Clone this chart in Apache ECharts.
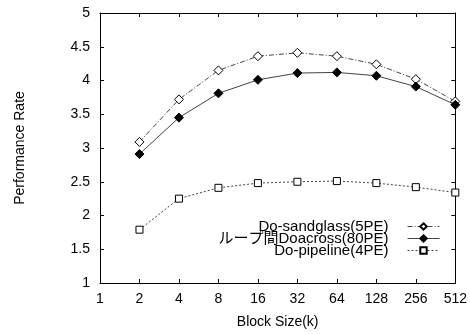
<!DOCTYPE html>
<html>
<head>
<meta charset="utf-8">
<script src="https://cdn.jsdelivr.net/npm/echarts@6/dist/echarts.min.js"></script>
<style>
  html, body { margin: 0; padding: 0; background: #fff; }
  #chart { width: 470px; height: 334px; }
</style>
</head>
<body>
<div id="chart"></div>
<script>
const blockSizes = [2, 4, 8, 16, 32, 64, 128, 256, 512]
const sandglass = [3.09, 3.72, 4.15, 4.36, 4.41, 4.36, 4.24, 4.02, 3.69]
const doacross = [2.91, 3.45, 3.81, 4.01, 4.11, 4.12, 4.07, 3.91, 3.64]
const pipeline = [1.79, 2.25, 2.41, 2.48, 2.50, 2.51, 2.48, 2.42, 2.34]
const seriesNames = ['Do-sandglass(5PE)', 'ループ間Doacross(80PE)', 'Do-pipeline(4PE)']

const font = 'Liberation Sans, Arial, Noto Sans CJK JP, sans-serif'
const pairs = (ys) => blockSizes.map((x, i) => [x, ys[i]])

const chart = echarts.init(document.getElementById('chart'))

const xBase = {
  type: 'log',
  logBase: 2,
  min: 1,
  max: 512,
  splitNumber: 9,
  axisLine: { lineStyle: { color: '#000', width: 1 } },
  axisTick: { inside: true, length: 4, lineStyle: { color: '#000' } },
  splitLine: { show: false },
  minorTick: { show: false }
}
const yBase = {
  type: 'value',
  min: 1,
  max: 5,
  interval: 0.5,
  axisLine: { show: true, lineStyle: { color: '#000', width: 1 } },
  axisTick: { show: true, inside: true, length: 4, lineStyle: { color: '#000' } },
  splitLine: { show: false }
}

// one legend per row so every row is right aligned like the original key
const legendAt = (name, top) => ({
  data: [name],
  orient: 'vertical',
  right: 30,
  top: top,
  align: 'right',
  itemWidth: 32,
  itemHeight: 8,
  padding: 0,
  selectedMode: false,
  lineStyle: { width: 1 },
  textStyle: { fontFamily: font, fontSize: 15, color: '#000', padding: [0, 14, 0, 0] }
})

chart.setOption({
  animation: false,
  backgroundColor: '#fff',
  grid: { left: 100, right: 12, top: 13, bottom: 38 },
  legend: [
    legendAt(seriesNames[0], 219),
    legendAt(seriesNames[1], 231),
    legendAt(seriesNames[2], 243)
  ],
  xAxis: [
    Object.assign({}, xBase, {
      position: 'bottom',
      name: 'Block Size(k)',
      nameLocation: 'middle',
      nameGap: 32,
      nameTextStyle: { fontFamily: font, fontSize: 14, color: '#000' },
      axisLabel: { fontFamily: font, fontSize: 14, color: '#000', margin: 9 }
    }),
    Object.assign({}, xBase, { position: 'top', axisLabel: { show: false } })
  ],
  yAxis: [
    Object.assign({}, yBase, {
      position: 'left',
      name: 'Performance Rate',
      nameLocation: 'middle',
      nameGap: 73,
      nameTextStyle: { fontFamily: font, fontSize: 14, color: '#000' },
      axisLabel: { fontFamily: font, fontSize: 14, color: '#000', margin: 10 }
    }),
    Object.assign({}, yBase, { position: 'right', axisLabel: { show: false } })
  ],
  series: [
    {
      name: seriesNames[0],
      type: 'line',
      data: pairs(sandglass),
      symbol: 'diamond',
      symbolSize: 9,
      lineStyle: { color: '#444', width: 1, type: [5, 2, 1, 2] },
      itemStyle: { color: '#fff', borderColor: '#000', borderWidth: 1 }
    },
    {
      name: seriesNames[1],
      type: 'line',
      data: pairs(doacross),
      symbol: 'diamond',
      symbolSize: 9,
      lineStyle: { color: '#444', width: 1, type: 'solid' },
      itemStyle: { color: '#000', borderColor: '#000', borderWidth: 1 }
    },
    {
      name: seriesNames[2],
      type: 'line',
      data: pairs(pipeline),
      symbol: 'rect',
      symbolSize: 7,
      lineStyle: { color: '#444', width: 1, type: [2, 2] },
      itemStyle: { color: '#fff', borderColor: '#000', borderWidth: 1 }
    }
  ]
})
</script>
</body>
</html>
